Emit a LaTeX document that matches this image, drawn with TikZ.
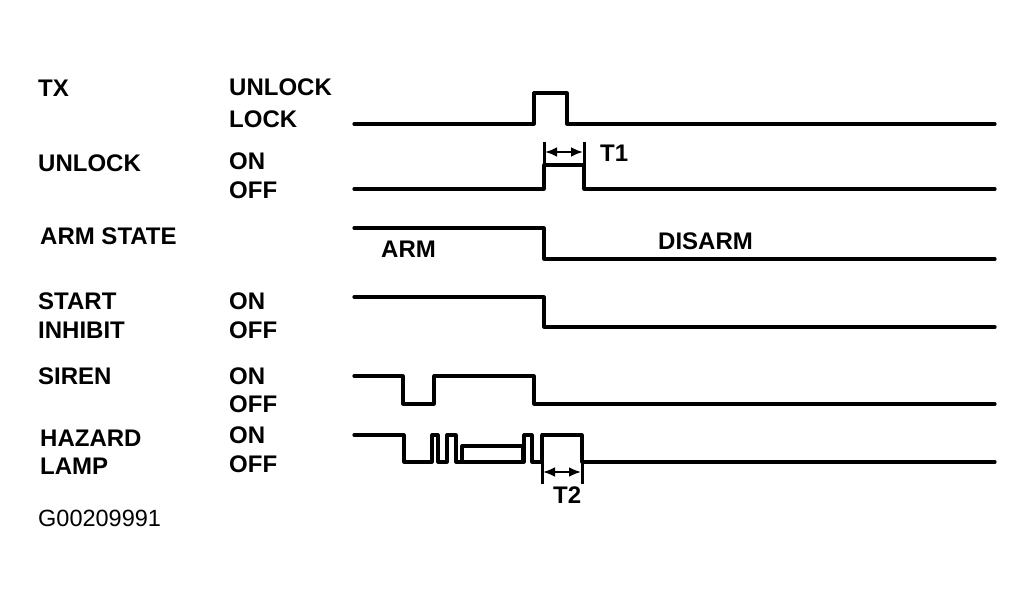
\documentclass[tikz,border=0pt]{standalone}
\usepackage{fontspec}
\setmainfont{Liberation Sans}
\usetikzlibrary{arrows.meta}
\begin{document}
\begin{tikzpicture}[x=1pt,y=-1pt,
  lbl/.style={anchor=west,inner sep=0pt,font=\fontsize{24}{28}\selectfont\bfseries},
  plain/.style={anchor=west,inner sep=0pt,font=\fontsize{23.5}{28}\selectfont},
  wave/.style={line width=3.2pt,line join=round,line cap=round},
  dim/.style={line width=2.6pt,{Latex[length=12pt,width=10pt]}-{Latex[length=12pt,width=10pt]}},
  tick/.style={line width=3pt}]
\useasboundingbox (0,0) rectangle (1033,601);
\fill[white] (0,0) rectangle (1033,601);
% left labels
\node[lbl] (tx) at (38,88) {TX};
\node[lbl] (unl) at (38,163) {UNLOCK};
\node[lbl] (arm) at (40,236) {ARM STATE};
\node[lbl] (start) at (38,301) {START};
\node[lbl] (inh) at (38,330) {INHIBIT};
\node[lbl] (siren) at (38,376) {SIREN};
\node[lbl] (haz) at (40,438) {HAZARD};
\node[lbl] (lamp) at (40,466) {LAMP};
% state labels
\node[lbl] (s1) at (229,87) {UNLOCK};
\node[lbl] (s2) at (229,119) {LOCK};
\node[lbl] (s3) at (229,161) {ON};
\node[lbl] (s4) at (229,190) {OFF};
\node[lbl] (s5) at (229,301) {ON};
\node[lbl] (s6) at (229,330) {OFF};
\node[lbl] (s7) at (229,376) {ON};
\node[lbl] (s8) at (229,404) {OFF};
\node[lbl] (s9) at (229,435) {ON};
\node[lbl] (s10) at (229,464) {OFF};
\node[plain] (code) at (38,518) {G00209991};
% inline labels
\node[lbl] (armt) at (381,249) {ARM};
\node[lbl] (disarm) at (658,241) {DISARM};
\node[lbl] (t1) at (600,153) {T1};
\node[lbl] (t2) at (553,495) {T2};
% waveforms
\draw[wave] (354,124) -- (534,124) -- (534,93) -- (567,93) -- (567,124) -- (995,124);
\draw[wave] (354,189) -- (544,189) -- (544,165) -- (584,165) -- (584,189) -- (995,189);
\draw[wave] (354,228) -- (544,228) -- (544,259) -- (995,259);
\draw[wave] (354,297) -- (544,297) -- (544,327) -- (995,327);
\draw[wave] (354,376) -- (403,376) -- (403,404) -- (434,404) -- (434,376) -- (534,376) -- (534,404) -- (995,404);
\draw[wave] (354,435) -- (404,435) -- (404,462) -- (432,462) -- (432,435) -- (438,435) -- (438,462)
  -- (447,462) -- (447,435) -- (456,435) -- (456,462) -- (524,462) -- (524,435) -- (532,435)
  -- (532,462) -- (542,462) -- (542,435) -- (582,435) -- (582,462) -- (995,462);
\draw[wave] (462,462) -- (462,446) -- (523,446) -- (523,462);
% T1
\draw[tick] (544,142) -- (544,165);
\draw[tick] (584,142) -- (584,165);
\draw[dim] (545,152) -- (583,152);
% T2
\draw[tick] (542,462) -- (542,484);
\draw[tick] (582,462) -- (582,484);
\draw[dim] (543,472) -- (581,472);
\end{tikzpicture}
\end{document}
